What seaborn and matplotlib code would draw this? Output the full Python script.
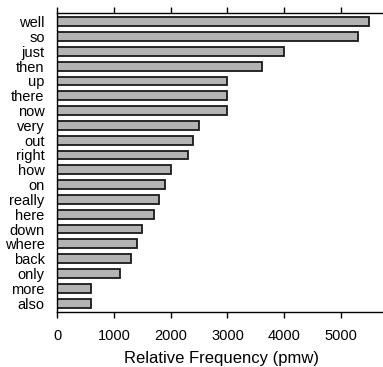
import matplotlib
matplotlib.use("Agg")
import matplotlib.pyplot as plt
import seaborn as sns
import pandas as pd

words = ["well", "so", "just", "then", "up", "there", "now", "very", "out", "right",
         "how", "on", "really", "here", "down", "where", "back", "only", "more", "also"]
freq = [5500, 5300, 4000, 3600, 3000, 3000, 3000, 2500, 2400, 2300,
        2000, 1900, 1800, 1700, 1500, 1400, 1300, 1100, 600, 600]
xticks = [0, 1000, 2000, 3000, 4000, 5000]

sns.set_style("white")
plt.rcParams['font.family'] = ['Liberation Sans', 'DejaVu Sans']
plt.rcParams['text.color'] = 'black'
plt.rcParams['xtick.color'] = 'black'
plt.rcParams['ytick.color'] = 'black'
plt.rcParams['axes.labelcolor'] = 'black'

df = pd.DataFrame({"word": words, "freq": freq})

fig = plt.figure(figsize=(3.83, 3.67), dpi=100)
ax = fig.add_axes([0.149, 0.150, 0.86, 0.815])
sns.barplot(data=df, x="freq", y="word", orient="h", color="#b3b3b3",
            edgecolor="#1a1a1a", linewidth=1.3, width=0.6, saturation=1, ax=ax)
ax.set_xlim(0, 5800)
ax.set_ylim(19.6, -0.6)
ax.set_xticks(xticks)
ax.set_xticklabels([str(t) for t in xticks], fontsize=10.5)
ax.tick_params(axis='y', length=0, labelsize=10.5, pad=9)
ax.tick_params(axis='x', which='both', top=True, bottom=True, direction='out',
               length=4, width=1, color='black', labeltop=False, pad=8)
ax.set_xlabel("Relative Frequency (pmw)", fontsize=12, labelpad=6)
ax.set_ylabel("")
for s in ["left", "top", "bottom"]:
    ax.spines[s].set_visible(True)
    ax.spines[s].set_color("black")
    ax.spines[s].set_linewidth(1)
ax.spines["right"].set_visible(False)
ax.spines["top"].set_bounds(0, 5800)
fig.savefig("out.png", dpi=100)
